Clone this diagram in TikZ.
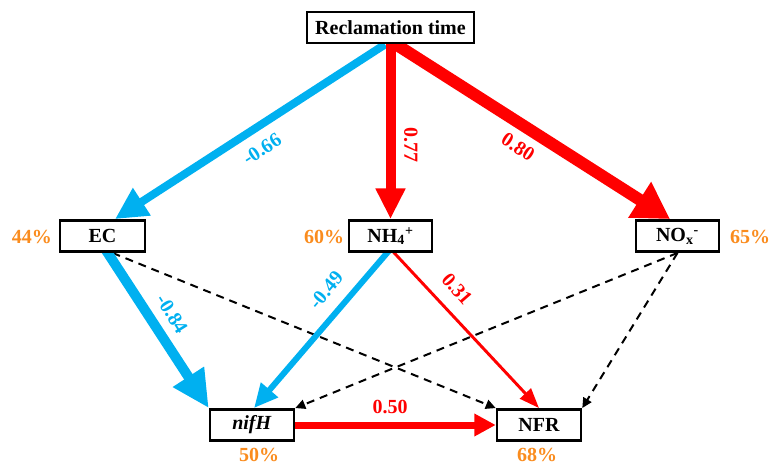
\documentclass[tikz,border=0pt]{standalone}
\usepackage{fontspec}
\setmainfont{Liberation Serif}
\usetikzlibrary{arrows.meta,calc,backgrounds}
\definecolor{cblue}{RGB}{0,176,240}
\definecolor{cred}{RGB}{255,0,0}
\definecolor{corange}{RGB}{250,140,30}
\begin{document}
\begin{tikzpicture}[x=0.75pt,y=-0.75pt,
  box/.style={draw=black,line width=1.9pt,fill=white,inner sep=0pt,
    minimum height=23.5pt,font=\fontsize{15}{18}\selectfont\bfseries},
  pct/.style={text=corange,inner sep=0pt,font=\fontsize{15}{18}\selectfont\bfseries},
  coef/.style={inner sep=0pt,font=\fontsize{15}{18}\selectfont\bfseries},
  dashlink/.style={draw=black,line width=1.5pt,dash pattern=on 6pt off 4.5pt,
    -{Triangle[length=7.5pt,width=7pt]}},
]
\useasboundingbox (0,0) rectangle (771,464);
% boxes
\node[box,minimum width=125.25pt] (rt) at (390.5,27.5) {Reclamation time};
\node[box,minimum width=63.75pt] (ec) at (102.5,236) {EC};
\node[box,minimum width=62.25pt] (nh) at (390.5,236) {NH\textsubscript{4}\textsuperscript{+}};
\node[box,minimum width=62.25pt] (no) at (677.5,236) {NO\textsubscript{x}\textsuperscript{-}};
\node[box,minimum width=63pt] (nif) at (252,425) {\textit{nifH}};
\node[box,minimum width=63pt] (nfr) at (539,425) {NFR};
% percentages
\node[pct] (p1) at (32,237) {44\%};
\node[pct] (p2) at (324,237) {60\%};
\node[pct] (p3) at (750,237) {65\%};
\node[pct] (p4) at (259,455) {50\%};
\node[pct] (p5) at (537,455) {68\%};
\begin{pgfonlayer}{background}
% dashed links
\draw[dashlink] ($(ec.south)+(10,0)$) -- (nfr.north west);
\draw[dashlink] (no.south) -- (nif.north east);
\draw[dashlink] (no.south) -- (nfr.north east);
% solid links
\draw[cblue,line width=6pt,-{Triangle[length=24pt,width=23pt]}]
  ($(rt.south)+(-5.5,0)$) -- ($(ec.north)+(12.5,0)$);
\draw[cred,line width=9pt,-{Triangle[length=27pt,width=30pt]}]
  ($(rt.south)+(5.5,0)$) -- ($(no.north)+(-7.5,0)$);
\draw[cred,line width=7.5pt,-{Triangle[length=23pt,width=21pt]}]
  (rt.south) -- (nh.north);
\draw[cblue,line width=7.5pt,-{Triangle[length=28pt,width=26pt]}]
  ($(ec.south)+(2,-5)$) -- (nif.north west);
\draw[cblue,line width=4.5pt,-{Triangle[length=18pt,width=16pt]}]
  ($(nh.south)+(0,-4)$) -- ($(nif.north)+(2,0)$);
\draw[cred,line width=2.2pt,-{Triangle[length=15pt,width=11pt]}]
  ($(nh.south)+(0,-4)$) -- (nfr.north);
\draw[cred,line width=5.25pt,-{Triangle[length=16pt,width=16pt]}]
  (nif.east) -- (nfr.west);
\end{pgfonlayer}
% coefficients
\node[coef,text=cblue,rotate=33] (c1) at (262,149) {-0.66};
\node[coef,text=cred,rotate=-90] (c2) at (411,145) {0.77};
\node[coef,text=cred,rotate=-33] (c3) at (518,147) {0.80};
\node[coef,text=cblue,rotate=-58] (c4) at (172,314) {-0.84};
\node[coef,text=cblue,rotate=50] (c5) at (326,290) {-0.49};
\node[coef,text=cred,rotate=-49] (c6) at (457,289) {0.31};
\node[coef,text=cred] (c7) at (390,407) {0.50};
\end{tikzpicture}
\end{document}
